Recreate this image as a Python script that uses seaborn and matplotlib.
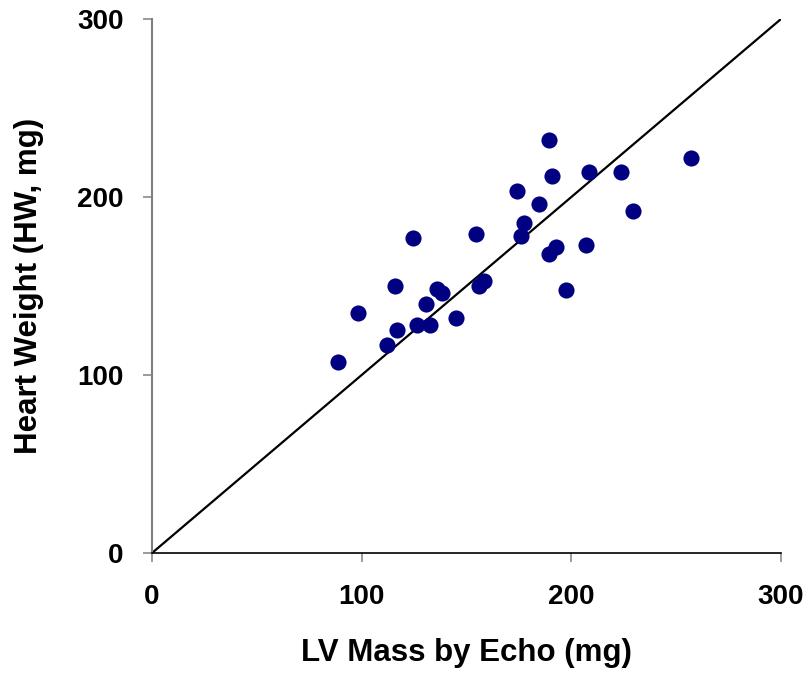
import matplotlib
matplotlib.use("Agg")
import matplotlib.pyplot as plt
import seaborn as sns
import pandas as pd

# LV mass by echo (mg) vs heart weight (mg)
lv_mass = [88.6, 98.1, 111.9, 116.9, 116.1, 124.3, 126.4, 132.8, 130.5, 135.8,
           138.5, 144.8, 154.7, 155.8, 158.2, 173.9, 177.3, 176.1, 184.6, 189.3,
           190.8, 189.3, 192.7, 197.6, 208.6, 223.6, 257.1, 229.6, 206.9]
heart_weight = [107.1, 135.0, 117.0, 125.1, 150.0, 177.0, 127.9, 127.9, 140.1, 148.1,
                145.9, 132.0, 179.0, 150.0, 153.0, 203.2, 185.2, 178.1, 196.1, 232.0,
                212.0, 168.0, 172.1, 147.9, 214.0, 214.0, 222.1, 192.0, 173.0]
identity_x = [0, 300]
identity_y = [0, 300]
ticks = [0, 100, 200, 300]

df = pd.DataFrame({"lv": lv_mass, "hw": heart_weight})

sns.set_style("white")
plt.rcParams["font.family"] = ["Liberation Sans", "DejaVu Sans"]
plt.rcParams["font.weight"] = "bold"
plt.rcParams["text.color"] = "black"
plt.rcParams["axes.labelcolor"] = "black"
plt.rcParams["xtick.color"] = "black"
plt.rcParams["ytick.color"] = "black"

fig = plt.figure(figsize=(8.09, 6.73), dpi=100)
ax = fig.add_axes([152 / 809, 1 - 553 / 673, (781 - 152) / 809, (553 - 19) / 673])

ax.plot(identity_x, identity_y, color="black", lw=1.6, zorder=2)
sns.scatterplot(data=df, x="lv", y="hw", ax=ax, color="#000080", s=135,
                linewidth=0, zorder=3, clip_on=False)

ax.set_xlim(0, 300)
ax.set_ylim(0, 300)
ax.set_xticks(ticks)
ax.set_yticks(ticks)
ax.set_xticklabels([str(t) for t in ticks], fontsize=20, fontweight="bold")
ax.set_yticklabels([str(t) for t in ticks], fontsize=20, fontweight="bold")
ax.tick_params(axis="both", direction="out", length=6.5, width=1.1,
               color="#808080", labelcolor="black", bottom=True, left=True)
ax.tick_params(axis="y", pad=14)
ax.tick_params(axis="x", pad=16)

for s in ["top", "right"]:
    ax.spines[s].set_visible(False)
ax.spines["left"].set_color("#808080")
ax.spines["left"].set_linewidth(1.5)
ax.spines["bottom"].set_color("black")
ax.spines["bottom"].set_linewidth(1.2)

ax.set_xlabel("LV Mass by Echo (mg)", fontsize=22.5, fontweight="bold",
              labelpad=20, color="black")
ax.set_ylabel("Heart Weight (HW, mg)", fontsize=22.5, fontweight="bold",
              labelpad=24, color="black")

fig.savefig("out.png", dpi=100)
